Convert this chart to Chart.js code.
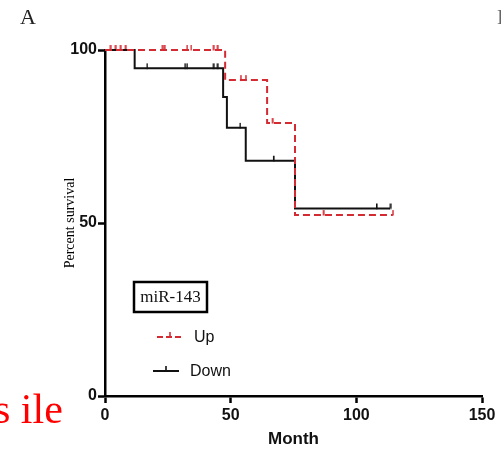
<!DOCTYPE html>
<html>
<head>
<meta charset="utf-8">
<script src="https://cdn.jsdelivr.net/npm/chart.js@4.4.1/dist/chart.umd.min.js"></script>
<style>
  html, body { margin: 0; padding: 0; background: #fff; }
  #wrap { position: relative; width: 501px; height: 450px; overflow: hidden; }
  .panel { position: absolute; font-family: "Liberation Serif", serif; line-height: 1; white-space: nowrap; }
</style>
</head>
<body>
<div id="wrap">
  <canvas id="kmChart" width="501" height="450"></canvas>
  <div class="panel" style="left:20px; top:6px; font-size:22px; color:#222;">A</div>
  <div class="panel" style="left:497px; top:6px; font-size:22px; color:#666;">B</div>
  <div class="panel" style="left:-6px; top:388px; font-size:42px; color:#ff0000;">s ile</div>
</div>
<script>
// Kaplan-Meier steps (months, percent survival)
const upTimes = [0, 47.8, 64.5, 75.6, 114.5];
const upSurvival = [100, 91.3, 78.9, 52.3, 52.3];
const upCensored = [2, 4, 6, 8, 22.7, 23.5, 32.6, 34.2, 43, 44.6, 54, 56, 66.5, 86.8, 114.5];

const downTimes = [0, 11.8, 47, 48.5, 56, 75.6, 113.4];
const downSurvival = [100, 94.7, 86.4, 77.5, 68, 54.2, 54.2];
const downCensored = [16.7, 31.8, 32.6, 43, 44.6, 53.7, 67, 108, 113.4];

const groupLabels = ['Up', 'Down'];
const xTicks = [0, 50, 100, 150];
const yTicks = [0, 50, 100];

const upColor = '#d42a32';
const downColor = '#111111';

function survivalAt(times, surv, t) {
    let s = surv[0];
    for (let i = 0; i < times.length; i++) {
        if (times[i] <= t) s = surv[i];
    }
    return s;
}

function stepPoints(times, surv) {
    return times.map((t, i) => ({x: t, y: surv[i]}));
}

function censorPoints(times, surv, cens) {
    return cens.map(t => ({x: t, y: survivalAt(times, surv, t)}));
}

// small upward tick used for censored cases
function censorMark(color) {
    const c = document.createElement('canvas');
    c.width = 3;
    c.height = 12;
    const ctx = c.getContext('2d');
    ctx.fillStyle = color;
    ctx.fillRect(1, 1, 1.6, 5.5);
    return c;
}

// GraphPad style legend: boxed title plus line samples
const kmLegend = {
    id: 'kmLegend',
    afterDraw(chart) {
        const ctx = chart.ctx;
        ctx.save();
        ctx.strokeStyle = '#000';
        ctx.lineWidth = 2.5;
        ctx.strokeRect(134, 282, 73, 30);
        ctx.fillStyle = '#111';
        ctx.font = '17px "Liberation Serif"';
        ctx.textAlign = 'center';
        ctx.textBaseline = 'middle';
        ctx.fillText('miR-143', 170.5, 297.5);

        const rows = [
            {x0: 157, x1: 183, y: 337, tx: 194, color: upColor, dash: [6, 3]},
            {x0: 153, x1: 179, y: 371, tx: 190, color: downColor, dash: []}
        ];
        rows.forEach((r, i) => {
            ctx.strokeStyle = r.color;
            ctx.lineWidth = 2;
            ctx.setLineDash(r.dash);
            ctx.beginPath();
            ctx.moveTo(r.x0, r.y);
            ctx.lineTo(r.x1, r.y);
            ctx.stroke();
            ctx.setLineDash([]);
            ctx.lineWidth = 1.6;
            ctx.beginPath();
            ctx.moveTo((r.x0 + r.x1) / 2, r.y);
            ctx.lineTo((r.x0 + r.x1) / 2, r.y - 5);
            ctx.stroke();
            ctx.fillStyle = '#111';
            ctx.font = '16px "Liberation Sans"';
            ctx.textAlign = 'left';
            ctx.fillText(chart.data.datasets[i].label, r.tx, r.y + 1);
        });
        ctx.restore();
    }
};

new Chart(document.getElementById('kmChart').getContext('2d'), {
    type: 'line',
    data: {
        datasets: [
            {
                label: groupLabels[0],
                data: stepPoints(upTimes, upSurvival),
                stepped: true,
                borderColor: upColor,
                borderWidth: 2,
                borderDash: [7, 4],
                pointRadius: 0,
                clip: false
            },
            {
                label: groupLabels[1],
                data: stepPoints(downTimes, downSurvival),
                stepped: true,
                borderColor: downColor,
                borderWidth: 2,
                pointRadius: 0,
                clip: false
            },
            {
                label: 'Up censored',
                type: 'scatter',
                data: censorPoints(upTimes, upSurvival, upCensored),
                pointStyle: censorMark(upColor),
                clip: false
            },
            {
                label: 'Down censored',
                type: 'scatter',
                data: censorPoints(downTimes, downSurvival, downCensored),
                pointStyle: censorMark(downColor),
                clip: false
            }
        ]
    },
    options: {
        responsive: false,
        animation: false,
        layout: {
            padding: {top: 50, right: 19, left: 0, bottom: 0}
        },
        scales: {
            x: {
                type: 'linear',
                min: 0,
                max: 150,
                afterBuildTicks(scale) {
                    scale.ticks = xTicks.map(v => ({value: v}));
                },
                afterFit(scale) {
                    scale.height = 54;
                },
                border: {color: '#000', width: 2.5},
                grid: {drawOnChartArea: false, color: '#000', tickColor: '#000', tickWidth: 2.5, tickLength: 7},
                ticks: {color: '#111', padding: 3, font: {family: 'Liberation Sans', size: 16, weight: 'bold'}},
                title: {
                    display: true,
                    text: 'Month',
                    color: '#111',
                    padding: {top: 0, bottom: 0},
                    font: {family: 'Liberation Sans', size: 17, weight: 'bold'}
                }
            },
            y: {
                min: 0,
                max: 100,
                afterBuildTicks(scale) {
                    scale.ticks = yTicks.map(v => ({value: v}));
                },
                afterFit(scale) {
                    scale.width = 105;
                },
                border: {color: '#000', width: 2.5},
                grid: {drawOnChartArea: false, color: '#000', tickColor: '#000', tickWidth: 2.5, tickLength: 7},
                ticks: {color: '#111', padding: 1, font: {family: 'Liberation Sans', size: 16, weight: 'bold'}},
                title: {
                    display: true,
                    text: 'Percent survival',
                    color: '#000',
                    padding: {top: 62, bottom: 0},
                    font: {family: 'Liberation Serif', size: 14}
                }
            }
        },
        plugins: {
            legend: {display: false},
            tooltip: {enabled: false}
        }
    },
    plugins: [kmLegend]
});
</script>
</body>
</html>
